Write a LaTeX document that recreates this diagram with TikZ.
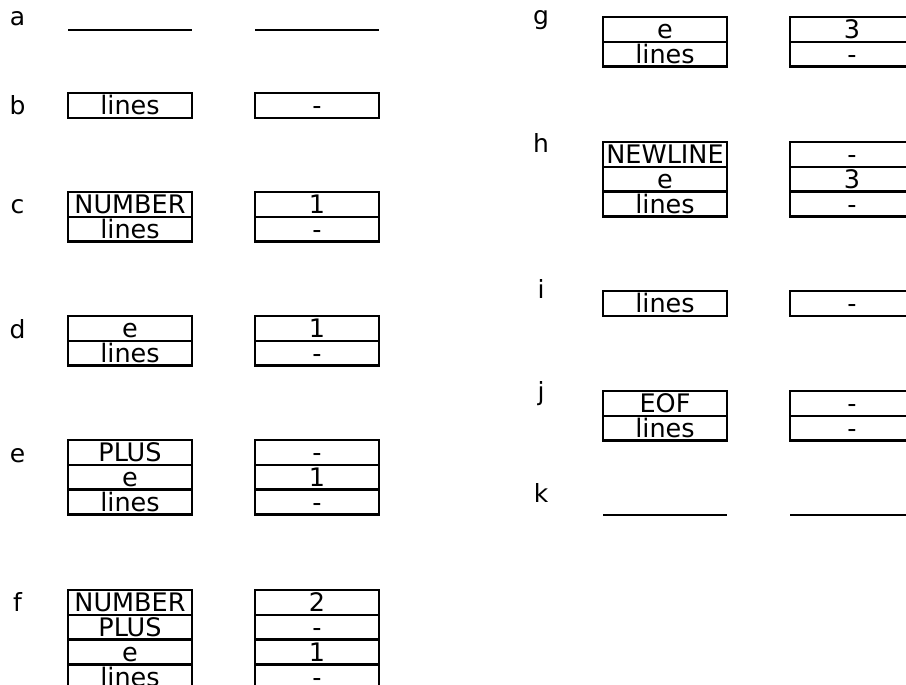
\documentclass[tikz,border=0pt]{standalone}
\usepackage{fontspec}
\setmainfont{DejaVu Sans}
\begin{document}
\begin{tikzpicture}[x=1pt,y=-1pt,
  cell/.style={draw, line width=2.3pt, outer sep=0pt, minimum width=124pt, minimum height=24.8pt,
    inner sep=0pt, text height=20.4pt, text depth=1.3pt, font=\fontsize{25.5}{25.5}\selectfont, anchor=north},
  lbl/.style={anchor=base, inner sep=0pt, font=\fontsize{25}{25}\selectfont},
  emptyline/.style={line width=2.3pt}]
\useasboundingbox (0,0) rectangle (906,685);
\clip (0,0) rectangle (906,685);
% labels
\node[lbl] (la) at (17.5,26) {a};
\node[lbl] (lb) at (17.5,114) {b};
\node[lbl] (lc) at (17.5,213) {c};
\node[lbl] (ld) at (17.5,338) {d};
\node[lbl] (le) at (17.5,462) {e};
\node[lbl] (lf) at (17.5,611) {f};
\node[lbl] (lg) at (541,25) {g};
\node[lbl] (lh) at (541,152) {h};
\node[lbl] (li) at (541,298) {i};
\node[lbl] (lj) at (541,400) {j};
\node[lbl] (lk) at (541,502) {k};
% a
\coordinate (a1l) at (68,30); \coordinate (a1r) at (192,30);
\coordinate (a2l) at (255,30); \coordinate (a2r) at (379,30);
\draw[emptyline] (a1l) -- (a1r);
\draw[emptyline] (a2l) -- (a2r);
% b
\node[cell] (b1a) at (130,93) {lines};
\node[cell] (b2a) at (317,93) {-};
% c
\node[cell] (c1a) at (130,192) {NUMBER};
\node[cell] (c1b) at (c1a.south) {lines};
\node[cell] (c2a) at (317,192) {1};
\node[cell] (c2b) at (c2a.south) {-};
% d
\node[cell] (d1a) at (130,316) {e};
\node[cell] (d1b) at (d1a.south) {lines};
\node[cell] (d2a) at (317,316) {1};
\node[cell] (d2b) at (d2a.south) {-};
% e
\node[cell] (e1a) at (130,440) {PLUS};
\node[cell] (e1b) at (e1a.south) {e};
\node[cell] (e1c) at (e1b.south) {lines};
\node[cell] (e2a) at (317,440) {-};
\node[cell] (e2b) at (e2a.south) {1};
\node[cell] (e2c) at (e2b.south) {-};
% f
\node[cell] (f1a) at (130,590) {NUMBER};
\node[cell] (f1b) at (f1a.south) {PLUS};
\node[cell] (f1c) at (f1b.south) {e};
\node[cell] (f1d) at (f1c.south) {lines};
\node[cell] (f2a) at (317,590) {2};
\node[cell] (f2b) at (f2a.south) {-};
\node[cell] (f2c) at (f2b.south) {1};
\node[cell] (f2d) at (f2c.south) {-};
% g
\node[cell] (g1a) at (665,17) {e};
\node[cell] (g1b) at (g1a.south) {lines};
\node[cell] (g2a) at (852,17) {3};
\node[cell] (g2b) at (g2a.south) {-};
% h
\node[cell] (h1a) at (665,142) {NEWLINE};
\node[cell] (h1b) at (h1a.south) {e};
\node[cell] (h1c) at (h1b.south) {lines};
\node[cell] (h2a) at (852,142) {-};
\node[cell] (h2b) at (h2a.south) {3};
\node[cell] (h2c) at (h2b.south) {-};
% i
\node[cell] (i1a) at (665,291) {lines};
\node[cell] (i2a) at (852,291) {-};
% j
\node[cell] (j1a) at (665,391) {EOF};
\node[cell] (j1b) at (j1a.south) {lines};
\node[cell] (j2a) at (852,391) {-};
\node[cell] (j2b) at (j2a.south) {-};
% k
\coordinate (k1l) at (603,515); \coordinate (k1r) at (727,515);
\coordinate (k2l) at (790,515); \coordinate (k2r) at (914,515);
\draw[emptyline] (k1l) -- (k1r);
\draw[emptyline] (k2l) -- (k2r);
\end{tikzpicture}
\end{document}
